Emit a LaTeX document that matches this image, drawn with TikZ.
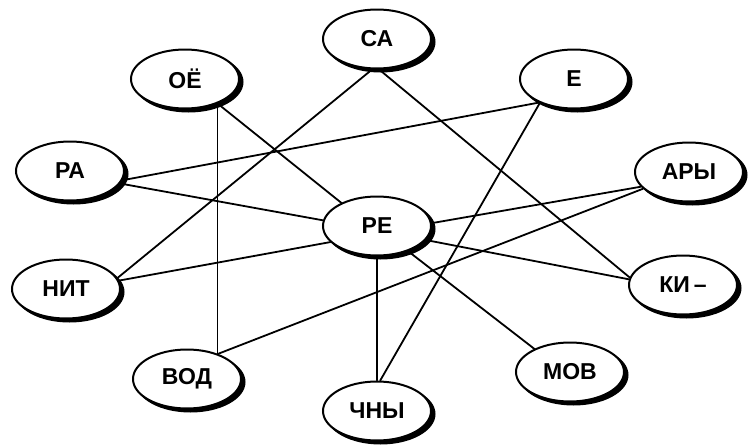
\documentclass[tikz,border=0pt]{standalone}
\usepackage{fontspec}
\setmainfont{Liberation Sans}
\usetikzlibrary{shapes.geometric}
\begin{document}
\begin{tikzpicture}[x=1pt,y=-1pt,
  term/.style={ellipse, draw=black, line width=2pt, fill=white,
    minimum width=108pt, minimum height=59pt, inner sep=0pt,
    font=\fontsize{23}{23}\selectfont\bfseries},
  shade/.style={ellipse, fill=black, draw=black, line width=2pt,
    minimum width=108pt, minimum height=59pt, inner sep=0pt,
    xshift=3.5pt, yshift=-3pt},
  link/.style={line width=1.8pt, line cap=round}]
\useasboundingbox (0,0) rectangle (748,445);

% black offset ellipses giving each fragment its shadow
\foreach \px/\py in {377/39,185/79,574/79,70/171,377/226,689/172,66/289,683/285,187/379,570/372,377/411}
  \node[shade] (sh-\px-\py) at (\px,\py) {};

% word fragments
\node[term] (ca)  at (377,39)  {СА};
\node[term] (oe)  at (185,79)  {ОЁ};
\node[term] (e)   at (574,79)  {Е};
\node[term] (ra)  at (70,171)  {РА};
\node[term] (re)  at (377,226) {РЕ};
\node[term] (ary) at (689,172) {АРЫ};
\node[term] (nit) at (66,289)  {НИТ};
\node[term] (ki)  at (683,285) {КИ\,–};
\node[term] (vod) at (187,379) {ВОД};
\node[term] (mov) at (570,372) {МОВ};
\node[term] (chn) at (377,411) {ЧНЫ};

% links between fragments
\draw[link] (oe.-37) -- (re.147);
\draw[link] (oe.-37) -- (oe.-37 |- vod.37);
\draw[link] (ca.-99) -- (nit.12);
\draw[link] (ca.-86) -- (ki.172);
\draw[link] (e.-146) -- (ra.-10);
\draw[link] (e.-145) -- (chn.84);
\draw[link] (ra.-14) -- (re.174);
\draw[link] (re.3)   -- (ary.-163);
\draw[link] (ary.-160) -- (vod.39);
\draw[link] (nit.9)  -- (re.-161);
\draw[link] (re.-16) -- (ki.174);
\draw[link] (re.-39) -- (mov.147);
\draw[link] (re.-90) -- (chn.90);
\end{tikzpicture}
\end{document}
